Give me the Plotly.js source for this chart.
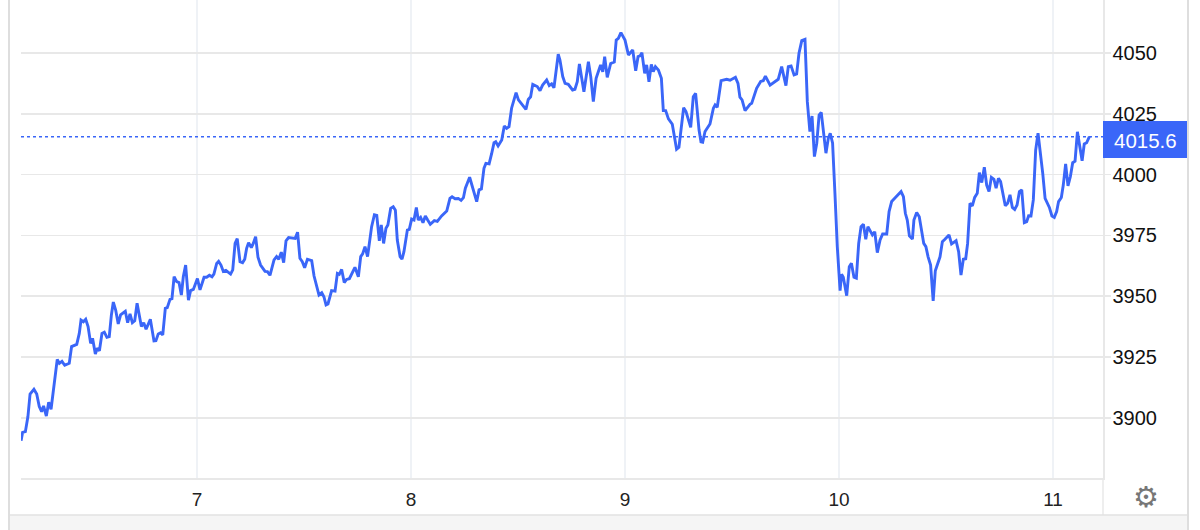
<!DOCTYPE html>
<html>
<head>
<meta charset="utf-8">
<script src="https://cdn.plot.ly/plotly-3.0.1.min.js"></script>
<style>html,body{margin:0;padding:0;background:#fff;overflow:hidden}#chart{width:1200px;height:530px}</style>
</head>
<body>
<div id="chart"></div>
<script>
const days = [
6.178,6.185,6.198,6.210,6.220,6.238,6.251,6.263,6.274,6.283,6.296,6.307,6.318,6.333,6.347,6.357,6.369,6.382,6.403,6.414,6.438,6.450,6.458,6.469,6.480,6.491,6.503,6.512,6.525,6.534,6.544,6.556,6.567,6.579,6.590,6.600,6.609,6.620,6.632,6.643,6.665,6.676,6.687,6.698,6.709,6.720,6.731,6.740,6.751,6.762,6.782,6.799,6.808,6.819,6.830,6.840,6.852,6.861,6.874,6.883,6.893,6.905,6.916,6.927,6.936,6.947,6.960,6.970,6.983,
7.002,7.014,7.033,7.045,7.058,7.070,7.079,7.092,7.101,7.112,7.123,7.135,7.157,7.167,7.178,7.188,7.201,7.213,7.223,7.232,7.241,7.254,7.263,7.274,7.285,7.297,7.318,7.329,7.341,7.360,7.372,7.382,7.394,7.405,7.416,7.428,7.447,7.459,7.470,7.481,7.492,7.503,7.516,7.536,7.547,7.556,7.570,7.583,7.593,7.603,7.612,7.629,7.645,7.656,7.665,7.676,7.688,7.699,7.712,7.738,7.754,7.765,7.774,7.785,7.797,7.816,7.829,7.840,7.852,7.861,7.872,7.883,7.892,7.905,7.917,7.927,7.936,7.949,7.958,7.967,7.983,7.992,
8.003,8.014,8.025,8.034,8.045,8.056,8.067,8.078,8.090,8.109,8.123,8.143,8.167,8.182,8.192,8.206,8.221,8.234,8.245,8.254,8.274,8.307,8.318,8.329,8.341,8.350,8.365,8.377,8.388,8.396,8.407,8.424,8.436,8.447,8.458,8.470,8.491,8.502,8.537,8.548,8.559,8.569,8.590,8.603,8.615,8.634,8.646,8.657,8.668,8.688,8.696,8.709,8.720,8.735,8.755,8.766,8.777,8.787,8.798,8.808,8.829,8.840,8.852,8.865,8.878,8.886,8.896,8.905,8.917,8.933,8.950,8.959,8.969,8.981,
9.000,9.016,9.036,9.050,9.061,9.070,9.079,9.092,9.101,9.112,9.123,9.132,9.142,9.156,9.170,9.179,9.190,9.203,9.221,9.229,9.241,9.252,9.265,9.274,9.285,9.307,9.319,9.330,9.346,9.355,9.363,9.374,9.397,9.413,9.421,9.431,9.449,9.475,9.491,9.516,9.528,9.537,9.547,9.561,9.584,9.592,9.615,9.634,9.646,9.656,9.678,9.693,9.716,9.732,9.752,9.763,9.776,9.790,9.802,9.813,9.826,9.841,9.852,9.864,9.874,9.885,9.896,9.907,9.917,9.939,9.950,9.959,9.970,9.981,9.992,
10.005,10.012,10.020,10.036,10.048,10.058,10.070,10.081,10.092,10.103,10.114,10.125,10.135,10.156,10.167,10.179,10.192,10.204,10.223,10.234,10.246,10.269,10.290,10.301,10.310,10.319,10.329,10.343,10.350,10.363,10.375,10.396,10.406,10.416,10.428,10.440,10.450,10.472,10.483,10.495,10.514,10.526,10.547,10.559,10.570,10.581,10.592,10.601,10.612,10.623,10.634,10.646,10.656,10.667,10.679,10.690,10.701,10.712,10.724,10.734,10.745,10.755,10.777,10.788,10.799,10.810,10.821,10.832,10.843,10.854,10.866,10.877,10.886,10.897,10.908,10.919,10.930,10.952,10.963,10.983,10.995,
11.006,11.017,11.026,11.039,11.048,11.059,11.070,11.081,11.092,11.103,11.114,11.125,11.136,11.146,11.157,11.170];
const prices = [
3890.6,3894.0,3894.3,3900.5,3909.8,3911.7,3909.8,3904.6,3902.5,3904.9,3900.7,3906.4,3903.5,3914.2,3924.0,3922.4,3923.2,3921.6,3922.4,3929.3,3930.2,3934.7,3940.2,3939.5,3940.5,3937.5,3930.6,3932.7,3926.2,3928.6,3927.6,3934.7,3935.2,3933.1,3933.4,3942.3,3947.6,3944.3,3938.6,3942.3,3943.8,3939.1,3942.7,3939.1,3939.9,3947.1,3942.3,3937.5,3939.1,3936.4,3940.5,3931.6,3931.7,3934.5,3935.0,3934.1,3945.0,3945.3,3948.7,3949.0,3958.0,3956.0,3955.6,3950.5,3958.0,3962.8,3948.4,3952.3,3952.8,
3957.3,3952.6,3957.8,3957.8,3958.6,3958.0,3959.1,3963.5,3964.3,3962.8,3960.2,3960.6,3959.1,3960.8,3971.7,3973.7,3964.2,3963.8,3965.2,3969.7,3972.0,3970.0,3971.7,3974.5,3966.0,3962.8,3960.2,3960.1,3958.6,3964.9,3966.3,3965.2,3968.1,3963.8,3972.8,3974.1,3973.8,3973.8,3976.3,3965.6,3964.2,3961.7,3965.2,3964.6,3958.3,3955.6,3950.5,3951.4,3949.8,3946.4,3946.8,3952.3,3952.1,3959.4,3959.0,3961.0,3955.6,3956.9,3957.2,3961.9,3958.0,3966.3,3967.4,3970.4,3966.3,3978.6,3983.5,3983.2,3972.8,3979.3,3971.7,3977.9,3979.3,3986.1,3986.8,3985.4,3973.1,3966.3,3965.2,3968.3,3977.2,3977.5,
3981.7,3981.3,3986.5,3981.3,3982.4,3980.2,3983.0,3981.3,3979.6,3981.1,3980.8,3983.0,3985.0,3990.2,3990.9,3990.1,3990.2,3989.4,3990.5,3994.4,3998.9,3988.9,3993.7,3994.1,4002.6,4004.6,4004.4,4008.7,4013.1,4013.5,4011.8,4014.2,4020.0,4019.0,4019.7,4027.3,4033.7,4030.7,4026.8,4030.9,4032.0,4037.1,4036.2,4034.5,4036.8,4038.9,4036.6,4037.3,4035.7,4049.5,4047.1,4040.3,4037.5,4037.1,4034.8,4035.1,4038.2,4045.5,4038.9,4034.1,4046.4,4040.3,4030.0,4039.6,4043.0,4045.1,4042.3,4048.5,4040.0,4045.7,4046.3,4055.3,4056.0,4058.4,
4055.3,4049.2,4051.2,4042.7,4048.5,4048.8,4050.1,4041.6,4045.1,4038.2,4045.3,4042.3,4044.4,4043.0,4039.6,4026.3,4026.3,4022.9,4020.7,4016.3,4010.4,4011.2,4019.7,4027.5,4025.9,4019.4,4032.0,4033.4,4018.3,4013.5,4013.3,4017.7,4020.8,4027.3,4028.6,4027.7,4038.6,4039.2,4038.8,4040.0,4037.5,4031.8,4030.7,4026.3,4028.9,4029.3,4035.5,4038.3,4038.6,4040.5,4036.8,4037.8,4039.2,4044.4,4036.6,4044.4,4044.7,4041.0,4041.4,4049.9,4055.1,4055.6,4030.0,4017.7,4024.1,4007.4,4012.9,4024.5,4025.6,4008.8,4014.9,4017.0,4012.9,3992.3,3970.4,
3952.3,3959.0,3957.8,3950.2,3962.1,3963.5,3957.8,3957.4,3971.7,3978.6,3979.6,3973.4,3978.6,3975.2,3976.5,3967.9,3973.1,3975.6,3975.6,3984.8,3988.9,3990.9,3993.0,3990.9,3984.1,3981.3,3974.8,3973.5,3981.3,3984.4,3982.7,3971.7,3970.4,3966.3,3962.8,3948.1,3960.5,3966.2,3972.4,3973.4,3975.2,3971.5,3972.8,3968.3,3958.7,3965.2,3965.4,3971.7,3988.2,3987.1,3990.6,3992.3,4000.8,3996.7,4003.0,3995.7,3993.0,3998.9,3998.1,3994.4,3998.5,3997.1,3987.2,3988.2,3991.7,3986.5,3985.7,3987.5,3993.0,3993.7,3980.2,3980.6,3983.1,3983.0,3989.6,4010.1,4017.0,4000.5,3990.2,3986.5,3983.0,
3982.4,3984.8,3988.9,3990.6,3995.7,4004.4,3995.4,3999.1,4004.9,4005.5,4017.6,4012.2,4005.7,4012.6,4013.1,4015.6];
const xTicks = [7,8,9,10,11];
const yTicks = [3900,3925,3950,3975,4000,4025,4050];
const lastPrice = '4015.6';
const lastValue = 4015.6;

const BLUE = '#3a66f8', GRID = '#e8e8e8', FONT = '"Liberation Sans", Arial, sans-serif';
const W = 1082, H = 478, L = 21;
const px = v => (v - L) / W;
const py = v => (H - v) / H;

const trace = {x: days, y: prices, type: 'scatter', mode: 'lines',
  line: {color: BLUE, width: 2.9, shape: 'linear'}, hoverinfo: 'skip', cliponaxis: false};

const layout = {
  width: 1200, height: 530, showlegend: false,
  margin: {l: 21, r: 97, t: 0, b: 52, pad: 0},
  paper_bgcolor: '#fff', plot_bgcolor: '#fff',
  font: {family: FONT},
  xaxis: {range: [6.1776, 11.2336], tickmode: 'array', tickvals: xTicks, ticktext: xTicks.map(String),
    showgrid: true, gridcolor: '#eff2f6', gridwidth: 1.5, zeroline: false,
    showline: true, linecolor: GRID, linewidth: 1.5, ticks: '', ticklabelstandoff: 4,
    tickfont: {size: 19, color: '#222', family: FONT}, automargin: false},
  yaxis: {range: [3875.25, 4071.79], side: 'right', tickmode: 'array', tickvals: yTicks, ticktext: yTicks.map(String),
    showgrid: true, gridcolor: GRID, gridwidth: 1.5, zeroline: false,
    showline: true, linecolor: GRID, linewidth: 1.5, ticks: 'outside', ticklen: 6, tickcolor: GRID, tickwidth: 1.5,
    ticklabelstandoff: -2,
    tickfont: {size: 20, color: '#111', family: FONT}, automargin: false},
  shapes: [
    {type: 'line', xref: 'paper', yref: 'y', x0: 0, x1: 1, y0: lastValue, y1: lastValue,
      line: {color: BLUE, width: 1.5, dash: 'dot'}},
    {type: 'rect', xref: 'paper', yref: 'paper', x0: 1, x1: px(1188), y0: py(158), y1: py(121),
      fillcolor: BLUE, line: {width: 0}},
    {type: 'line', xref: 'paper', yref: 'paper', x0: 1, x1: 1, y0: py(515), y1: 0,
      line: {color: GRID, width: 1.5}},
    {type: 'rect', xref: 'paper', yref: 'paper', x0: px(9), x1: px(1188), y0: py(530), y1: py(515),
      fillcolor: '#f5f5f5', line: {width: 0}},
    {type: 'line', xref: 'paper', yref: 'paper', x0: px(9), x1: px(1188), y0: py(515), y1: py(515),
      line: {color: '#e2e2e2', width: 1.5}},
    {type: 'line', xref: 'paper', yref: 'paper', x0: px(9), x1: px(9), y0: py(530), y1: py(0),
      line: {color: '#dedede', width: 2}},
    {type: 'line', xref: 'paper', yref: 'paper', x0: px(1188), x1: px(1188), y0: py(530), y1: py(0),
      line: {color: '#dedede', width: 2}}
  ],
  annotations: [
    {xref: 'paper', yref: 'paper', x: px(1145.5), y: py(140), text: lastPrice, showarrow: false,
      xanchor: 'center', yanchor: 'middle', font: {size: 20.5, color: '#fff', family: FONT}},
    {xref: 'paper', yref: 'paper', x: px(1145.5), y: py(497), text: '\u2699', showarrow: false,
      xanchor: 'center', yanchor: 'middle', font: {size: 29, color: '#777', family: '"DejaVu Sans"'}}
  ]
};
Plotly.newPlot('chart', [trace], layout, {displayModeBar: false, staticPlot: true});
</script>
</body>
</html>
